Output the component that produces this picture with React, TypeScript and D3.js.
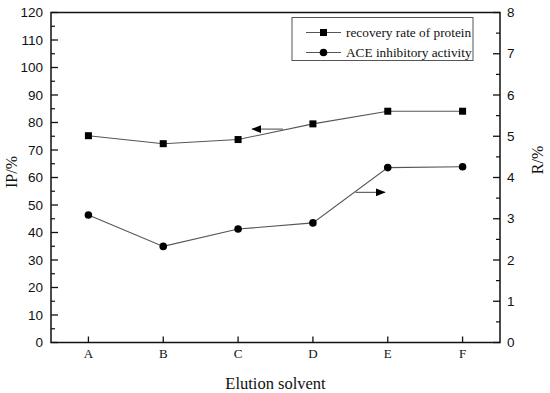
import * as d3 from "d3";

const categories = ["A", "B", "C", "D", "E", "F"];
const recoveryRate = [75.2, 72.3, 73.8, 79.5, 84.1, 84.1]; // left axis IP/%
const aceActivity = [3.09, 2.33, 2.75, 2.9, 4.24, 4.26]; // right axis R/%
const leftTicks = d3.range(0, 121, 10);
const rightTicks = d3.range(0, 9, 1);
const legendLabels = ["recovery rate of protein", "ACE inhibitory activity"];

const W = 550;
const H = 393;
const plot = { left: 51, right: 500, top: 12.5, bottom: 342.5 };

const serif = "'Liberation Serif', 'Times New Roman', serif";
const sans = "'Liberation Sans', Arial, sans-serif";

const App = () => {
  const x = d3.scalePoint<string>()
    .domain(categories)
    .range([plot.left, plot.right])
    .padding(0.5);
  const step = x.step();

  const yL = d3.scaleLinear().domain([0, 120]).range([plot.bottom, plot.top]);
  const yR = d3.scaleLinear().domain([0, 8]).range([plot.bottom, plot.top]);

  const lineL = d3.line<number>()
    .x((_, i) => x(categories[i])!)
    .y((d) => yL(d));
  const lineR = d3.line<number>()
    .x((_, i) => x(categories[i])!)
    .y((d) => yR(d));

  const leftMinor = d3.range(5, 120, 10);
  const rightMinor = d3.range(0.5, 8, 1);

  // arrows pointing to the axis each series belongs to
  const arrowL = { x1: x("C")! + 0.6 * step, x2: x("C")! + 0.19 * step, y: yL(77.6) };
  const arrowR = { x1: x("D")! + 0.57 * step, x2: x("D")! + 0.96 * step, y: yL(54.6) };

  const lg = { x: 292, y: 17.5, w: 181, h: 43 };

  return (
    <svg width={W} height={H} style={{ position: "absolute", left: 0, top: 0, background: "#fff" }}>
      <defs>
        <marker
          id="head"
          viewBox="0 0 10 10"
          refX="9"
          refY="5"
          markerUnits="userSpaceOnUse"
          markerWidth="10"
          markerHeight="8"
          orient="auto"
          preserveAspectRatio="none"
        >
          <path d="M0,0 L10,5 L0,10 Z" fill="#000" />
        </marker>
      </defs>

      {/* frame */}
      <rect
        x={plot.left}
        y={plot.top}
        width={plot.right - plot.left}
        height={plot.bottom - plot.top}
        fill="none"
        stroke="#111"
        strokeWidth={1.5}
      />

      {/* left axis */}
      {leftTicks.map((t) => (
        <g key={"l" + t}>
          <line x1={plot.left} x2={plot.left + 7} y1={yL(t)} y2={yL(t)} stroke="#111" strokeWidth={1.3} />
          <text x={plot.left - 8} y={yL(t)} dy="0.35em" textAnchor="end" fontFamily={sans} fontSize={13.5} fill="#111">
            {t}
          </text>
        </g>
      ))}
      {leftMinor.map((t) => (
        <line key={"lm" + t} x1={plot.left} x2={plot.left + 4} y1={yL(t)} y2={yL(t)} stroke="#111" strokeWidth={1.2} />
      ))}

      {/* right axis */}
      {rightTicks.map((t) => (
        <g key={"r" + t}>
          <line x1={plot.right - 7} x2={plot.right} y1={yR(t)} y2={yR(t)} stroke="#111" strokeWidth={1.3} />
          <text x={plot.right + 7} y={yR(t)} dy="0.35em" textAnchor="start" fontFamily={sans} fontSize={13.5} fill="#111">
            {t}
          </text>
        </g>
      ))}
      {rightMinor.map((t) => (
        <line key={"rm" + t} x1={plot.right - 4} x2={plot.right} y1={yR(t)} y2={yR(t)} stroke="#111" strokeWidth={1.2} />
      ))}

      {/* bottom axis */}
      {categories.map((c) => (
        <g key={"b" + c}>
          <line x1={x(c)} x2={x(c)} y1={plot.bottom} y2={plot.bottom - 6} stroke="#111" strokeWidth={1.3} />
          <text x={x(c)} y={358} textAnchor="middle" fontFamily={serif} fontSize={13} fill="#111">
            {c}
          </text>
        </g>
      ))}

      {/* axis titles */}
      <text x={(plot.left + plot.right) / 2} y={389} textAnchor="middle" fontFamily={serif} fontSize={16.5} fill="#111">
        Elution solvent
      </text>
      <text
        transform={`translate(17,${172}) rotate(-90)`}
        textAnchor="middle"
        fontFamily={serif}
        fontSize={16}
        fill="#111"
      >
        IP/%
      </text>
      <text
        transform={`translate(543,${160}) rotate(-90)`}
        textAnchor="middle"
        fontFamily={serif}
        fontSize={16}
        fill="#111"
      >
        R/%
      </text>

      {/* series */}
      <path d={lineL(recoveryRate)!} fill="none" stroke="#555" strokeWidth={1.1} />
      <path d={lineR(aceActivity)!} fill="none" stroke="#555" strokeWidth={1.1} />
      {recoveryRate.map((v, i) => (
        <rect key={"s" + i} x={x(categories[i])! - 3.5} y={yL(v) - 3.5} width={7} height={7} fill="#000" />
      ))}
      {aceActivity.map((v, i) => (
        <circle key={"c" + i} cx={x(categories[i])!} cy={yR(v)} r={3.8} fill="#000" />
      ))}

      {/* arrows */}
      <line x1={arrowL.x1} x2={arrowL.x2} y1={arrowL.y} y2={arrowL.y} stroke="#555" strokeWidth={1.1} markerEnd="url(#head)" />
      <line x1={arrowR.x1} x2={arrowR.x2} y1={arrowR.y} y2={arrowR.y} stroke="#555" strokeWidth={1.1} markerEnd="url(#head)" />

      {/* legend */}
      <rect x={lg.x} y={lg.y} width={lg.w} height={lg.h} fill="#fff" stroke="#555" strokeWidth={1} />
      {legendLabels.map((label, i) => {
        const cy = lg.y + 15 + i * 20;
        return (
          <g key={"lg" + i}>
            <line x1={306} x2={341} y1={cy} y2={cy} stroke="#555" strokeWidth={1.1} />
            {i === 0 ? (
              <rect x={323.5 - 3.5} y={cy - 3.5} width={7} height={7} fill="#000" />
            ) : (
              <circle cx={323.5} cy={cy} r={3.8} fill="#000" />
            )}
            <text x={346} y={cy} dy="0.35em" fontFamily={serif} fontSize={13.3} fill="#111">
              {label}
            </text>
          </g>
        );
      })}
    </svg>
  );
};

export default App;
